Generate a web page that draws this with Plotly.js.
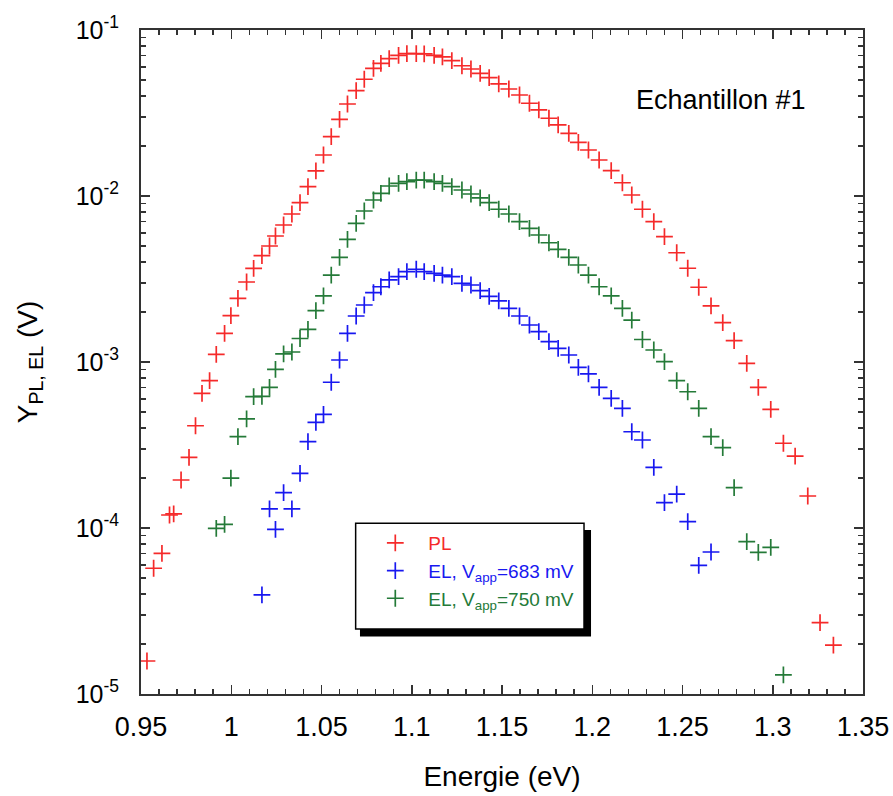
<!DOCTYPE html>
<html>
<head>
<meta charset="utf-8">
<script src="https://cdn.plot.ly/plotly-3.0.1.min.js"></script>
<style>html,body{margin:0;padding:0;background:#fff}#chart{width:893px;height:796px}</style>
</head>
<body>
<div id="chart"></div>
<script>
// ---- data ----
const energyPL = [0.9533,0.9570,0.9616,0.9658,0.9681,0.9722,0.9766,0.9802,0.9838,0.9880,
  0.9917,0.9963,0.9998,1.0037,1.0085,1.0124,1.0170,1.0212,1.0245,1.0290,
  1.0336,1.0381,1.0425,1.0469,1.0511,1.0554,1.0600,1.0644,1.0692,1.0737,
  1.0788,1.0829,1.0875,1.0927,1.0973,1.1025,1.1069,1.1124,1.1170,1.1222,
  1.1278,1.1328,1.1379,1.1429,1.1482,1.1538,1.1597,1.1652,1.1704,1.1760,
  1.1811,1.1870,1.1923,1.1979,1.2038,1.2105,1.2167,1.2219,1.2278,1.2341,
  1.2400,1.2468,1.2529,1.2590,1.2658,1.2723,1.2786,1.2856,1.2920,1.2989,
  1.3059,1.3124,1.3194,1.3262,1.3336];
const signalPL = [1.58e-5,5.72e-5,7.04e-5,1.198e-4,1.215e-4,1.946e-4,2.666e-4,4.13e-4,6.48e-4,7.72e-4,
  1.113e-3,1.489e-3,1.901e-3,2.42e-3,3.033e-3,3.668e-3,4.37e-3,4.997e-3,5.74e-3,6.69e-3,
  7.79e-3,9.11e-3,1.138e-2,1.415e-2,1.766e-2,2.277e-2,2.897e-2,3.583e-2,4.31e-2,5.05e-2,
  5.88e-2,6.30e-2,6.72e-2,7.04e-2,7.20e-2,7.20e-2,7.18e-2,7.04e-2,6.88e-2,6.53e-2,
  6.09e-2,5.82e-2,5.48e-2,5.16e-2,4.73e-2,4.41e-2,4.06e-2,3.62e-2,3.30e-2,2.94e-2,
  2.68e-2,2.385e-2,2.106e-2,1.893e-2,1.648e-2,1.421e-2,1.202e-2,1.014e-2,8.32e-3,7.00e-3,
  5.69e-3,4.55e-3,3.67e-3,2.82e-3,2.18e-3,1.725e-3,1.344e-3,9.82e-4,7.04e-4,5.19e-4,
  3.24e-4,2.71e-4,1.559e-4,2.69e-5,1.97e-5];

const energyEL683 = [1.0170,1.0212,1.0245,1.0290,1.0336,1.0381,1.0425,1.0469,1.0511,1.0554,
  1.0600,1.0644,1.0692,1.0737,1.0788,1.0829,1.0875,1.0927,1.0973,1.1025,
  1.1069,1.1124,1.1170,1.1222,1.1278,1.1328,1.1379,1.1429,1.1482,1.1538,
  1.1597,1.1652,1.1704,1.1760,1.1811,1.1870,1.1923,1.1979,1.2038,1.2105,
  1.2167,1.2219,1.2278,1.2341,1.2400,1.2468,1.2529,1.2590,1.2658];
const signalEL683 = [3.95e-5,1.302e-4,9.82e-5,1.632e-4,1.302e-4,2.135e-4,3.31e-4,4.33e-4,4.84e-4,7.55e-4,
  1.028e-3,1.489e-3,1.893e-3,2.205e-3,2.615e-3,2.84e-3,3.12e-3,3.265e-3,3.50e-3,3.62e-3,
  3.50e-3,3.42e-3,3.34e-3,3.265e-3,2.98e-3,2.91e-3,2.695e-3,2.487e-3,2.337e-3,2.106e-3,
  1.893e-3,1.671e-3,1.522e-3,1.326e-3,1.209e-3,1.102e-3,9.29e-4,8.47e-4,7.04e-4,6.04e-4,
  5.26e-4,3.80e-4,3.39e-4,2.32e-4,1.421e-4,1.602e-4,1.091e-4,5.96e-5,7.17e-5];

const energyEL750 = [0.9917,0.9963,0.9998,1.0037,1.0085,1.0124,1.0170,1.0212,1.0245,1.0290,
  1.0336,1.0381,1.0425,1.0469,1.0511,1.0554,1.0600,1.0644,1.0692,1.0737,
  1.0788,1.0829,1.0875,1.0927,1.0973,1.1025,1.1069,1.1124,1.1170,1.1222,
  1.1278,1.1328,1.1379,1.1429,1.1482,1.1538,1.1597,1.1652,1.1704,1.1760,
  1.1811,1.1870,1.1923,1.1979,1.2038,1.2105,1.2167,1.2219,1.2278,1.2341,
  1.2400,1.2468,1.2529,1.2590,1.2658,1.2723,1.2786,1.2856,1.2920,1.2989,
  1.3059];
const signalEL750 = [9.96e-5,1.052e-4,2.00e-4,3.55e-4,4.54e-4,6.18e-4,6.20e-4,7.04e-4,9.04e-4,1.118e-3,
  1.149e-3,1.385e-3,1.574e-3,2.04e-3,2.50e-3,3.34e-3,4.27e-3,5.48e-3,6.85e-3,8.12e-3,
  9.46e-3,1.038e-2,1.149e-2,1.192e-2,1.219e-2,1.248e-2,1.248e-2,1.219e-2,1.192e-2,1.138e-2,
  1.087e-2,1.028e-2,9.75e-3,9.11e-3,8.32e-3,7.79e-3,7.00e-3,6.39e-3,5.82e-3,5.23e-3,
  4.77e-3,4.27e-3,3.84e-3,3.34e-3,2.84e-3,2.50e-3,2.106e-3,1.79e-3,1.366e-3,1.181e-3,
  1.004e-3,7.72e-4,6.62e-4,5.26e-4,3.55e-4,3.05e-4,1.749e-4,8.27e-5,7.14e-5,7.65e-5,
  1.302e-5];

const seriesNames = ['PL', 'EL, V<sub>app</sub>=683 mV', 'EL, V<sub>app</sub>=750 mV'];
const xTickLabels = ['0.95','1','1.05','1.1','1.15','1.2','1.25','1.3','1.35'];
const yTickLabels = ['10<sup>-5</sup>','10<sup>-4</sup>','10<sup>-3</sup>','10<sup>-2</sup>','10<sup>-1</sup>'];
const annotationText = 'Echantillon #1';
const xTitle = 'Energie (eV)';
const yTitle = 'Y<sub>PL, EL</sub> (V)';

// ---- styling / layout ----
const colors = ['#f52a2a', '#1818f0', '#247a38'];
const FONT = 'Arial, "Liberation Sans", sans-serif';
const AX = '#333333';

function mk(x, y, name, c) {
  return {
    x: x, y: y, name: '<span style="color:' + c + '">' + name + '</span>',
    type: 'scatter', mode: 'markers',
    marker: {symbol: 'cross-thin', size: 12, color: c, line: {color: c, width: 1.7}}
  };
}
const traces = [
  mk(energyPL, signalPL, seriesNames[0], colors[0]),
  mk(energyEL683, signalEL683, seriesNames[1], colors[1]),
  mk(energyEL750, signalEL750, seriesNames[2], colors[2]),
  {x: [], y: [], xaxis: 'x2', yaxis: 'y2', type: 'scatter', mode: 'markers', showlegend: false, hoverinfo: 'skip'}
];

const xMajor = xTickLabels.map(Number);
const xMinor = [];
for (let i = 0; i <= 40; i++) xMinor.push(+(0.95 + i * 0.01).toFixed(2));
const yMajor = [1e-5, 1e-4, 1e-3, 1e-2, 1e-1];
const yMinor = [];
for (let e = -5; e < -1; e++) for (let k = 2; k <= 9; k++) yMinor.push(k * Math.pow(10, e));

const tickCommon = {ticks: 'inside', ticklen: 9, tickwidth: 1.5, tickcolor: AX, showgrid: false, zeroline: false};
const xMinorSpec = {tickmode: 'array', tickvals: xMinor, ticks: 'inside', ticklen: 5, tickwidth: 1.5, tickcolor: AX, showgrid: false};
const yMinorSpec = {tickmode: 'array', tickvals: yMinor, ticks: 'inside', ticklen: 5, tickwidth: 1.5, tickcolor: AX, showgrid: false};

const layout = {
  width: 893, height: 796,
  margin: {l: 141, r: 30, t: 30, b: 102},
  paper_bgcolor: '#fff', plot_bgcolor: '#fff',
  font: {family: FONT, color: '#000', size: 20},
  showlegend: true,
  xaxis: Object.assign({}, tickCommon, {
    range: [0.95, 1.35], tickmode: 'array', tickvals: xMajor, ticktext: xTickLabels,
    showline: true, linecolor: AX, linewidth: 2, mirror: true,
    tickfont: {size: 27, family: FONT},
    ticklabelstandoff: 8,
    minor: xMinorSpec,
    title: {text: xTitle, font: {size: 28, family: FONT}, standoff: 25}
  }),
  yaxis: Object.assign({}, tickCommon, {
    type: 'log', range: [-5, -1], tickmode: 'array', tickvals: yMajor, ticktext: yTickLabels,
    showline: true, linecolor: AX, linewidth: 2, mirror: true,
    tickfont: {size: 25, family: FONT},
    ticklabelstandoff: 15,
    minor: yMinorSpec,
    title: {text: yTitle, font: {size: 28, family: FONT}, standoff: 30}
  }),
  xaxis2: Object.assign({}, tickCommon, {
    overlaying: 'x', side: 'top', anchor: 'y2', range: [0.95, 1.35],
    tickmode: 'array', tickvals: xMajor, showticklabels: false, showline: false, minor: xMinorSpec
  }),
  yaxis2: Object.assign({}, tickCommon, {
    overlaying: 'y', side: 'right', anchor: 'x2', type: 'log', range: [-5, -1],
    tickmode: 'array', tickvals: yMajor, showticklabels: false, showline: false, minor: yMinorSpec
  }),
  legend: {
    x: 0.3065, y: 0.256, xanchor: 'left', yanchor: 'top',
    bgcolor: 'rgba(0,0,0,0)', borderwidth: 0,
    font: {size: 19, family: FONT}, itemwidth: 56, tracegroupgap: 0
  },
  shapes: [
    {type: 'rect', xref: 'paper', yref: 'paper', x0: 0.3033, x1: 0.6233, y0: 0.0866, y1: 0.2470,
     fillcolor: '#000', line: {width: 0}, layer: 'above'},
    {type: 'rect', xref: 'paper', yref: 'paper', x0: 0.2973, x1: 0.6136, y0: 0.0979, y1: 0.2570,
     fillcolor: '#fff', line: {color: '#000', width: 1.5}, layer: 'above'}
  ],
  annotations: [
    {text: annotationText, xref: 'paper', yref: 'paper', x: 0.803, y: 0.8946, xanchor: 'center', yanchor: 'middle',
     showarrow: false, font: {size: 27, family: FONT, color: '#000'}}
  ]
};

Plotly.newPlot('chart', traces, layout, {displayModeBar: false, staticPlot: true});
</script>
</body>
</html>
